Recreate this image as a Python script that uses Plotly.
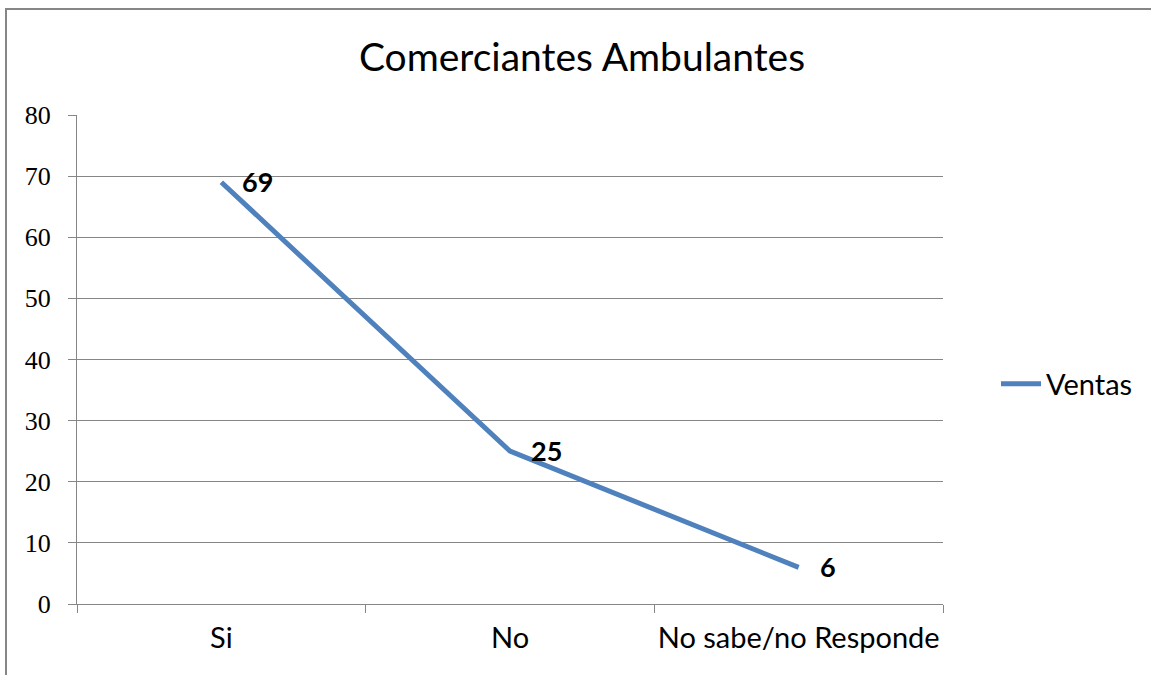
import plotly.graph_objects as go

categories = ["Si", "No", "No sabe/no Responde"]
ventas = [69, 25, 6]
series_name = "Ventas"
title_text = "Comerciantes Ambulantes"
y_ticks = [0, 10, 20, 30, 40, 50, 60, 70, 80]

W, H = 1151, 675
L, R, T, B = 77, 208, 115, 71

SANS = "Lato, 'Noto Sans', sans-serif"
SERIF = "'Liberation Serif', 'DejaVu Serif', serif"
GRAY = "#868686"

fig = go.Figure()
fig.add_trace(go.Scatter(
    x=categories, y=ventas, name=series_name,
    mode="lines",
    line=dict(color="#4F81BD", width=5),
    cliponaxis=False,
))

for c, v in zip(categories, ventas):
    fig.add_annotation(x=c, y=v, text=f"<b>{v}</b>", showarrow=False,
                       xanchor="left", yanchor="middle", xshift=19, yshift=1,
                       font=dict(family=SANS, size=27, color="black"))

pw = W - L - R
ph = H - T - B
def px_x(p):
    return (p - L) / pw
def px_y(p):
    return 1 - (p - T) / ph

fig.add_shape(type="line", xref="paper", yref="paper",
              x0=px_x(6), x1=px_x(6), y0=px_y(8), y1=px_y(H),
              line=dict(color=GRAY, width=2))
fig.add_shape(type="line", xref="paper", yref="paper",
              x0=px_x(5), x1=px_x(W), y0=px_y(9), y1=px_y(9),
              line=dict(color=GRAY, width=2))

fig.update_layout(
    width=W, height=H,
    margin=dict(l=L, r=R, t=T, b=B, autoexpand=False),
    paper_bgcolor="white", plot_bgcolor="white",
    title=dict(text=title_text, x=582 / W, xanchor="center", y=1 - 57 / H, yanchor="middle",
               font=dict(family=SANS, size=39, color="black")),
    showlegend=True,
    legend=dict(x=px_x(996), xanchor="left", y=px_y(384), yanchor="middle",
                font=dict(family=SANS, size=29, color="black"),
                itemwidth=40, bgcolor="rgba(0,0,0,0)"),
    xaxis=dict(type="category", range=[-0.5, 2.5], tickson="boundaries",
               ticks="outside", ticklen=8, tickcolor=GRAY, tickwidth=1,
               showline=True, linecolor=GRAY, linewidth=1, tickangle=0,
               automargin=False,
               showgrid=False, zeroline=False, ticklabelstandoff=8,
               tickfont=dict(family=SANS, size=29, color="black")),
    yaxis=dict(range=[0, 80], tickvals=y_ticks, ticks="outside", ticklen=8,
               tickcolor=GRAY, tickwidth=1, automargin=False,
               showline=True, linecolor=GRAY, linewidth=1,
               showgrid=True, gridcolor=GRAY, gridwidth=1, zeroline=False,
               ticklabelstandoff=12,
               tickfont=dict(family=SERIF, size=26, color="black")),
)

fig.write_html("out.html", config={"displayModeBar": False},
               post_script="document.body.style.margin='0';document.body.style.overflow='hidden';")
